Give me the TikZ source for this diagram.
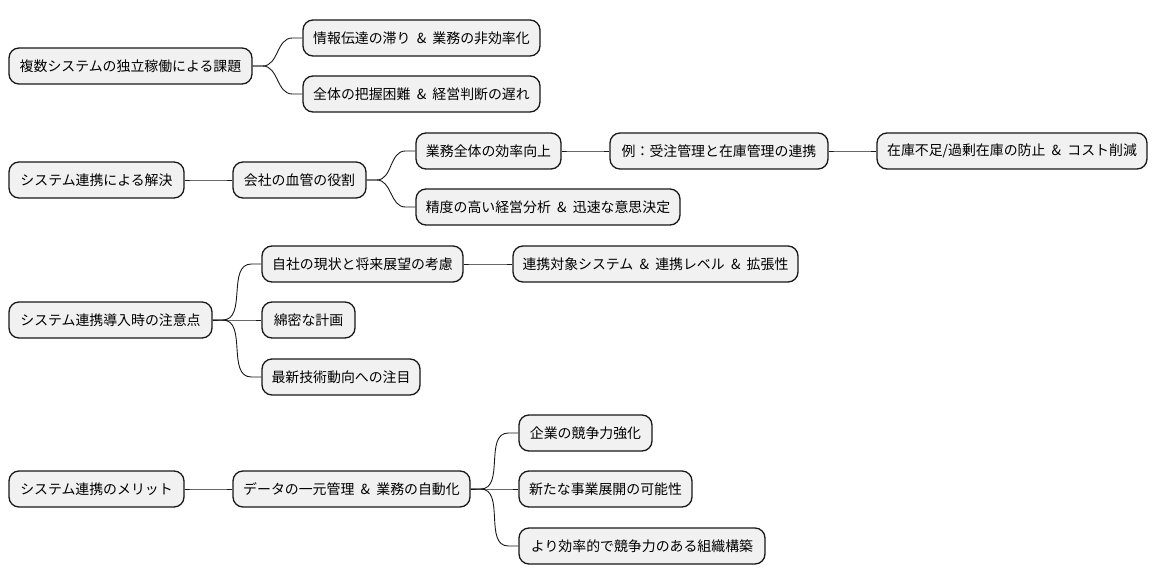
\documentclass[tikz,border=0pt]{standalone}
\usepackage{fontspec}
\newfontfamily\jp{Noto Sans CJK JP}
\usetikzlibrary{calc}
\definecolor{boxfill}{HTML}{F1F1F1}
\definecolor{ink}{HTML}{181818}
\newcommand\amp{\hspace{0.45em}\&\hspace{0.45em}}
\tikzset{
  mmbox/.style={draw=ink, line width=1.3pt, fill=boxfill, rounded corners=10pt,
    minimum height=36pt, inner sep=0pt, font=\jp\fontsize{13.9}{16}\selectfont, text=black},
  conn/.style={draw=ink, line width=0.9pt}
}
\newcommand\mmlink[2]{\draw[conn] (#1.east) -- ++(10,0) to[out=0,in=180] ($(#2.west)+(-10,0)$) -- (#2.west);}
\begin{document}
\begin{tikzpicture}[x=1pt,y=-1pt]
\useasboundingbox (0,0) rectangle (1157,583);
% row 1
\node[mmbox, minimum width=243pt] (r1) at (130.5,66) {複数システムの独立稼働による課題};
\node[mmbox, minimum width=237pt] (r1a) at (421.5,38) {情報伝達の滞り\amp 業務の非効率化};
\node[mmbox, minimum width=237pt] (r1b) at (421.5,94) {全体の把握困難\amp 経営判断の遅れ};
% row 2
\node[mmbox, minimum width=175pt] (r2) at (96.5,180) {システム連携による解決};
\node[mmbox, minimum width=133pt] (n2) at (299.5,180) {会社の血管の役割};
\node[mmbox, minimum width=145pt] (n2a) at (488.5,151) {業務全体の効率向上};
\node[mmbox, minimum width=218pt] (n2a1) at (719,151) {例：受注管理と在庫管理の連携};
\node[mmbox, minimum width=270pt] (n2a1a) at (1012,151) {在庫不足/過剰在庫の防止\amp コスト削減};
\node[mmbox, minimum width=264pt] (n2b) at (548,207) {精度の高い経営分析\amp 迅速な意思決定};
% row 3
\node[mmbox, minimum width=203pt] (r3) at (110.5,320) {システム連携導入時の注意点};
\node[mmbox, minimum width=201pt] (n3a) at (362.5,264) {自社の現状と将来展望の考慮};
\node[mmbox, minimum width=285pt] (n3a1) at (655.5,264) {連携対象システム\amp 連携レベル\amp 拡張性};
\node[mmbox, minimum width=93pt] (n3b) at (308.5,320) {綿密な計画};
\node[mmbox, minimum width=158pt] (n3c) at (341,377) {最新技術動向への注目};
% row 4
\node[mmbox, minimum width=175pt] (r4) at (96.5,489) {システム連携のメリット};
\node[mmbox, minimum width=237pt] (n4) at (351.5,489) {データの一元管理\amp 業務の自動化};
\node[mmbox, minimum width=133pt] (n4a) at (585.5,433) {企業の競争力強化};
\node[mmbox, minimum width=173pt] (n4b) at (605.5,489) {新たな事業展開の可能性};
\node[mmbox, minimum width=246pt] (n4c) at (642,546) {より効率的で競争力のある組織構築};
% connectors
\mmlink{r1}{r1a}
\mmlink{r1}{r1b}
\mmlink{r2}{n2}
\mmlink{n2}{n2a}
\mmlink{n2a}{n2a1}
\mmlink{n2a1}{n2a1a}
\mmlink{n2}{n2b}
\mmlink{r3}{n3a}
\mmlink{n3a}{n3a1}
\mmlink{r3}{n3b}
\mmlink{r3}{n3c}
\mmlink{r4}{n4}
\mmlink{n4}{n4a}
\mmlink{n4}{n4b}
\mmlink{n4}{n4c}
\end{tikzpicture}
\end{document}
